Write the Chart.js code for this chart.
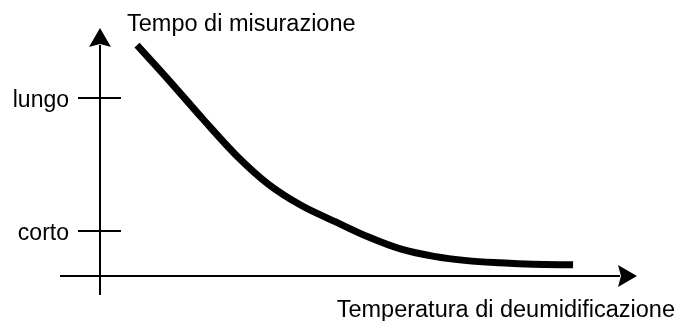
<!DOCTYPE html>
<html>
<head>
<meta charset="utf-8">
<script src="https://cdn.jsdelivr.net/npm/chart.js@4.4.1/dist/chart.umd.min.js"></script>
<style>
  body { margin: 0; background: #fff; }
  #wrap { width: 685px; height: 321px; }
</style>
</head>
<body>
<div id="wrap"><canvas id="chart"></canvas></div>
<script>
// curve (axis units 0..10)
const curveX = [0.69, 1.3, 1.92, 2.53, 3.13, 3.76, 4.38, 4.99, 5.61, 6.22, 6.83, 7.45, 8.06, 8.81]
const curveY = [9.31, 7.85, 6.32, 4.88, 3.71, 2.83, 2.19, 1.58, 1.08, 0.79, 0.62, 0.53, 0.47, 0.45]

const yTickValues = [1.81, 7.18]
const yTickLabels = ['corto', 'lungo']

const xTitle = 'Temperatura di deumidificazione'
const yTitle = 'Tempo di misurazione'

const FONT = '"Liberation Sans", Arial, sans-serif'

// axis lines with arrows, cross ticks and titles
const axesPlugin = {
  id: 'axes',
  afterDraw(chart) {
    const {ctx, chartArea} = chart
    const x0 = chart.scales.x.getPixelForValue(0)
    const y0 = chart.scales.y.getPixelForValue(0)
    const head = 19
    const half = 11

    ctx.save()
    ctx.strokeStyle = '#000'
    ctx.fillStyle = '#000'
    ctx.lineWidth = 2

    // y axis
    ctx.beginPath()
    ctx.moveTo(x0, y0 + 19)
    ctx.lineTo(x0, chartArea.top + head - 2)
    ctx.stroke()
    ctx.beginPath()
    ctx.moveTo(x0, chartArea.top)
    ctx.lineTo(x0 + half, chartArea.top + head)
    ctx.lineTo(x0, chartArea.top + head - 3)
    ctx.lineTo(x0 - half, chartArea.top + head)
    ctx.closePath()
    ctx.fill()

    // x axis
    ctx.beginPath()
    ctx.moveTo(x0 - 40, y0)
    ctx.lineTo(chartArea.right - head + 2, y0)
    ctx.stroke()
    ctx.beginPath()
    ctx.moveTo(chartArea.right, y0)
    ctx.lineTo(chartArea.right - head, y0 - half)
    ctx.lineTo(chartArea.right - head + 3, y0)
    ctx.lineTo(chartArea.right - head, y0 + half)
    ctx.closePath()
    ctx.fill()

    // cross ticks
    yTickValues.forEach((v) => {
      const py = Math.round(chart.scales.y.getPixelForValue(v))
      ctx.beginPath()
      ctx.moveTo(x0 - 22, py)
      ctx.lineTo(x0 + 21, py)
      ctx.stroke()
    })

    // titles
    ctx.font = `23.5px ${FONT}`
    ctx.textBaseline = 'alphabetic'
    ctx.textAlign = 'left'
    ctx.fillText(yTitle, 127, 31)
    ctx.textAlign = 'right'
    ctx.fillText(xTitle, 675, 317)
    ctx.restore()
  },
}

new Chart(document.getElementById('chart'), {
  type: 'line',
  data: {
    datasets: [{
      data: curveX.map((x, i) => ({x, y: curveY[i]})),
      borderColor: '#000',
      borderWidth: 7,
      borderCapStyle: 'butt',
      pointRadius: 0,
      cubicInterpolationMode: 'monotone',
      fill: false,
    }],
  },
  options: {
    responsive: true,
    maintainAspectRatio: false,
    animation: false,
    layout: {padding: {top: 28, right: 48, bottom: 0, left: 0}},
    plugins: {
      legend: {display: false},
      tooltip: {enabled: false},
    },
    scales: {
      x: {
        type: 'linear',
        min: 0,
        max: 10,
        grid: {display: false, drawTicks: false},
        border: {display: false},
        ticks: {display: false},
        afterFit(scale) {
          scale.height = 45
          scale.paddingLeft = 0
          scale.paddingRight = 0
        },
      },
      y: {
        min: 0,
        max: 10,
        grid: {display: false, drawTicks: false, tickLength: 0},
        border: {display: false},
        afterBuildTicks(scale) {
          scale.ticks = yTickValues.map((v) => ({value: v}))
        },
        ticks: {
          padding: 31,
          labelOffset: 3,
          color: '#000',
          font: {family: FONT, size: 23},
          callback: (value, i) => yTickLabels[i],
        },
        afterFit(scale) {
          scale.width = 100
          scale.paddingTop = 0
          scale.paddingBottom = 0
        },
      },
    },
  },
  plugins: [axesPlugin],
})
</script>
</body>
</html>
